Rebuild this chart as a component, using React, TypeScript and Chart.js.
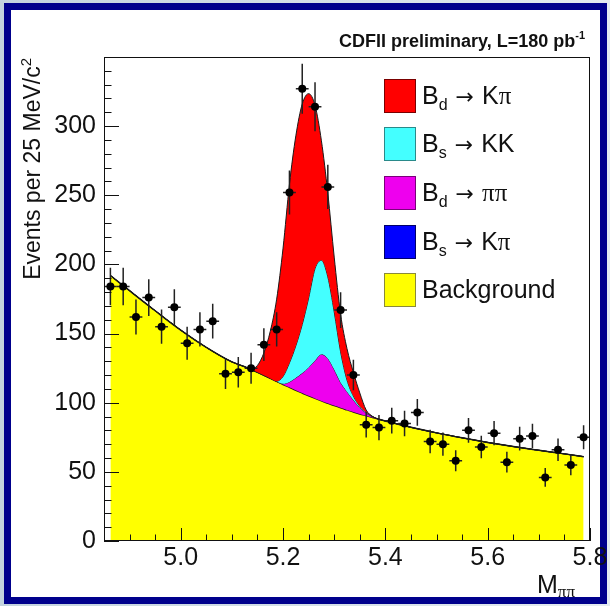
import React, { useEffect, useRef } from "react";
import { Chart, registerables } from "chart.js";

Chart.register(...registerables);

// ---- data points (bin centres, events per 25 MeV/c^2, errors) ----
const BIN_CENTERS = [
  4.8625, 4.8875, 4.9125, 4.9375, 4.9625, 4.9875, 5.0125, 5.0375, 5.0625, 5.0875,
  5.1125, 5.1375, 5.1625, 5.1875, 5.2125, 5.2375, 5.2625, 5.2875, 5.3125, 5.3375,
  5.3625, 5.3875, 5.4125, 5.4375, 5.4625, 5.4875, 5.5125, 5.5375, 5.5625, 5.5875,
  5.6125, 5.6375, 5.6625, 5.6875, 5.7125, 5.7375, 5.7625, 5.7875,
];
const EVENTS = [
  184, 184, 162, 176, 155, 169, 143, 153, 159, 121,
  122, 125, 142, 153, 252, 327, 314, 256, 167, 120,
  84, 82, 87, 85, 93, 72, 70, 58, 80, 68,
  78, 57, 74, 76, 46, 66, 55, 75,
];
const ERRORS = [
  13.6, 13.6, 12.7, 13.3, 12.4, 13.0, 12.0, 12.4, 12.6, 11.0,
  11.0, 11.2, 11.9, 12.4, 15.9, 18.1, 17.7, 16.0, 12.9, 11.0,
  9.2, 9.1, 9.3, 9.2, 9.6, 8.5, 8.4, 7.6, 8.9, 8.2,
  8.8, 7.5, 8.6, 8.7, 6.8, 8.1, 7.4, 8.7,
];
const BIN_HALF_WIDTH = 0.0125;

// ---- fit components ----
const CURVE_X = [
  4.8625, 4.9, 4.95, 5.0, 5.05, 5.1, 5.125, 5.1375, 5.15, 5.1625,
  5.175, 5.1875, 5.2, 5.2125, 5.225, 5.2375, 5.25, 5.2625, 5.275, 5.2875,
  5.3, 5.3125, 5.325, 5.3375, 5.35, 5.3625, 5.375, 5.3875, 5.4, 5.45,
  5.5, 5.55, 5.6, 5.65, 5.7, 5.75, 5.7875,
];
const BACKGROUND = [
  192, 181, 166.5, 152.5, 140, 129.5, 126, 124, 122, 119.8,
  117.6, 115.4, 113.2, 111.1, 109, 107, 105, 103.1, 101.3, 99.6,
  97.9, 96.3, 94.8, 93.3, 91.9, 90.6, 89.3, 88, 86.8, 82.2,
  78.2, 74.6, 71.3, 68.3, 65.6, 63, 61,
];
const BD_PIPI = [
  0, 0, 0, 0, 0, 0, 0, 0, 0, 0,
  0, 0, 0.5, 3.9, 9, 14.4, 20.5, 27.4, 33.7, 32.4,
  26.1, 18.3, 13.2, 8.6, 4.6, 1.9, 0.5, 0, 0, 0,
  0, 0, 0, 0, 0, 0, 0,
];
const BS_KK = [
  0, 0, 0, 0, 0, 0, 0, 0, 0, 0,
  0, 0.2, 5.3, 13.8, 23.2, 35.2, 50.2, 66.5, 68, 59,
  41.7, 22.2, 8.4, 2.9, 1.0, 0.7, 0.2, 0, 0, 0,
  0, 0, 0, 0, 0, 0, 0,
];
const BD_KPI = [
  0, 0, 0, 0, 0, 0, 0, 0.2, 5, 16.2,
  34, 59.3, 92.8, 129.2, 151.8, 159.4, 147.8, 118, 86.4, 60.6,
  39.6, 27.2, 22.7, 17.1, 9.6, 1.5, 0.1, 0, 0, 0,
  0, 0, 0, 0, 0, 0, 0,
];

const X_TICK_LABELS = [5.0, 5.2, 5.4, 5.6, 5.8];
const Y_TICK_LABELS = [0, 50, 100, 150, 200, 250, 300];
const X_RANGE = [4.85, 5.8];
const Y_RANGE = [0, 350];

const FONT = '"Liberation Sans", Arial, Helvetica, sans-serif';

const errorBars = {
  id: "errorBars",
  beforeDatasetDraw(chart: any, args: any) {
    if (args.index !== 0) return;
    const { ctx, scales } = chart;
    const x = scales.x;
    const y = scales.y;
    ctx.save();
    ctx.strokeStyle = "#222";
    ctx.lineWidth = 1.5;
    BIN_CENTERS.forEach((c, i) => {
      const px = x.getPixelForValue(c);
      const py = y.getPixelForValue(EVENTS[i]);
      ctx.beginPath();
      ctx.moveTo(px, y.getPixelForValue(EVENTS[i] - ERRORS[i]));
      ctx.lineTo(px, y.getPixelForValue(EVENTS[i] + ERRORS[i]));
      ctx.moveTo(x.getPixelForValue(c - BIN_HALF_WIDTH), py);
      ctx.lineTo(x.getPixelForValue(c + BIN_HALF_WIDTH), py);
      ctx.stroke();
    });
    ctx.restore();
  },
};

const rootFrame = {
  id: "rootFrame",
  afterDraw(chart: any) {
    const { ctx, chartArea: a, scales } = chart;
    const x = scales.x;
    const y = scales.y;
    ctx.save();
    ctx.strokeStyle = "#111";
    ctx.lineWidth = 1;
    ctx.strokeRect(Math.round(a.left) + 0.5, Math.round(a.top) + 0.5, Math.round(a.width) - 1, Math.round(a.height) - 1);
    ctx.beginPath();
    for (let v = Y_RANGE[0]; v <= Y_RANGE[1]; v += 10) {
      const py = Math.round(y.getPixelForValue(v)) + 0.5;
      const len = v % 50 === 0 ? 15 : 7.5;
      ctx.moveTo(a.left, py);
      ctx.lineTo(a.left + len, py);
    }
    for (let k = 0; k <= 19; k++) {
      const v = X_RANGE[0] + k * 0.05;
      const px = Math.round(x.getPixelForValue(v)) + 0.5;
      const major = Math.abs(v * 5 - Math.round(v * 5)) < 1e-6;
      const len = major ? 13 : 6.5;
      ctx.moveTo(px, a.bottom);
      ctx.lineTo(px, a.bottom - len);
    }
    ctx.stroke();
    ctx.restore();
  },
};

export default function App() {
  const ref = useRef<HTMLCanvasElement>(null);

  useEffect(() => {
    const canvas = ref.current;
    if (!canvas) return;
    const toPts = (ys: number[]) => CURVE_X.map((x, i) => ({ x, y: ys[i] }));
    const lvlBkg = BACKGROUND;
    const lvlPiPi = BACKGROUND.map((v, i) => v + BD_PIPI[i]);
    const lvlKK = lvlPiPi.map((v, i) => v + BS_KK[i]);
    const lvlKPi = lvlKK.map((v, i) => v + BD_KPI[i]);

    const curve = (label: string, ys: number[], color: string, fill: any, bw: number) => ({
      label,
      data: toPts(ys),
      borderColor: "#1a1a1a",
      borderWidth: bw,
      backgroundColor: color,
      fill,
      pointRadius: 0,
      pointHoverRadius: 0,
      cubicInterpolationMode: "monotone" as const,
    });

    const chart = new Chart(canvas, {
      type: "line",
      data: {
        datasets: [
          {
            label: "Data",
            data: BIN_CENTERS.map((x, i) => ({ x, y: EVENTS[i] })),
            showLine: false,
            pointRadius: 4,
            pointBackgroundColor: "#000",
            pointBorderColor: "#000",
            pointBorderWidth: 0,
            backgroundColor: "#000",
            borderColor: "#000",
          } as any,
          curve("Bd→Kπ", lvlKPi, "#ff0000", "+1", 1),
          curve("Bs→KK", lvlKK, "#44ffff", "+1", 1),
          curve("Bd→ππ", lvlPiPi, "#ee00ee", "+1", 1),
          curve("Background", lvlBkg, "#ffff00", "origin", 1.5),
        ],
      },
      options: {
        responsive: false,
        animation: false,
        events: [],
        layout: { padding: { left: 0, right: 20, top: 57, bottom: 0 } },
        plugins: { legend: { display: false }, tooltip: { enabled: false } },
        scales: {
          x: {
            type: "linear",
            min: X_RANGE[0],
            max: X_RANGE[1],
            afterFit: (s: any) => {
              s.height = 65;
            },
            afterBuildTicks: (s: any) => {
              s.ticks = X_TICK_LABELS.map((v) => ({ value: v }));
            },
            ticks: {
              autoSkip: false,
              maxRotation: 0,
              padding: 2,
              color: "#111",
              font: { family: FONT, size: 25 },
              callback: (v: any) => Number(v).toFixed(1),
            },
            grid: { display: false, drawTicks: false },
            border: { display: false },
          },
          y: {
            min: Y_RANGE[0],
            max: Y_RANGE[1],
            afterFit: (s: any) => {
              s.width = 104;
            },
            afterBuildTicks: (s: any) => {
              s.ticks = Y_TICK_LABELS.map((v) => ({ value: v }));
            },
            ticks: {
              autoSkip: false,
              padding: 8,
              color: "#111",
              font: { family: FONT, size: 25 },
              callback: (v: any) => String(v),
            },
            grid: { display: false, drawTicks: false },
            border: { display: false },
          },
        },
      },
      plugins: [errorBars, rootFrame],
    } as any);
    return () => chart.destroy();
  }, []);

  const legendRows = [
    { color: "#ff0000", border: "#7a0000", b: "d", decay: "Kπ" },
    { color: "#44ffff", border: "#2a8a8a", b: "s", decay: "KK" },
    { color: "#ee00ee", border: "#7a007a", b: "d", decay: "ππ" },
    { color: "#0000ff", border: "#00006a", b: "s", decay: "Kπ" },
    { color: "#ffff00", border: "#8a8a3a", b: "", decay: "" },
  ];
  const rowCenters = [95.5, 144, 193, 241.5, 290];

  return (
    <div
      style={{
        position: "absolute",
        left: 0,
        top: 0,
        width: 610,
        height: 606,
        overflow: "hidden",
        background: "linear-gradient(to right, #c3d3de, #e4ebf0)",
        fontFamily: FONT,
        color: "#111",
      }}
    >
      <div
        style={{
          position: "absolute",
          left: 4,
          top: 3,
          width: 603,
          height: 601,
          boxSizing: "border-box",
          border: "7px solid #00008c",
          background: "#ffffff",
        }}
      />
      <canvas
        ref={ref}
        width={610}
        height={606}
        style={{ position: "absolute", left: 0, top: 0, width: 610, height: 606 }}
      />
      {/* title */}
      <div
        style={{
          position: "absolute",
          right: 25,
          top: 30,
          fontSize: 18,
          fontWeight: "bold",
          lineHeight: "22px",
          whiteSpace: "nowrap",
        }}
      >
        CDFII preliminary, L=180 pb
        <span style={{ fontSize: 11, position: "relative", top: -8 }}>-1</span>
      </div>
      {/* y title */}
      <div
        style={{
          position: "absolute",
          left: 18,
          top: 318,
          width: 260,
          height: 28,
          lineHeight: "28px",
          fontSize: 23,
          textAlign: "right",
          whiteSpace: "nowrap",
          transform: "rotate(-90deg)",
          transformOrigin: "left top",
        }}
      >
        Events per 25 MeV/c
        <span style={{ fontSize: 15, position: "relative", top: -9 }}>2</span>
      </div>
      {/* x title */}
      <div
        style={{
          position: "absolute",
          left: 537,
          top: 569,
          fontSize: 25,
          lineHeight: "30px",
          whiteSpace: "nowrap",
        }}
      >
        M
        <span style={{ fontSize: 17, position: "relative", top: 4, fontFamily: '"Liberation Serif", "DejaVu Serif", serif' }}>
          ππ
        </span>
      </div>
      {/* legend */}
      {legendRows.map((r, i) => (
        <React.Fragment key={i}>
          <div
            style={{
              position: "absolute",
              left: 384,
              top: rowCenters[i] - 17,
              width: 32,
              height: 34,
              boxSizing: "border-box",
              background: r.color,
              border: `1.5px solid ${r.border}`,
            }}
          />
          <div
            style={{
              position: "absolute",
              left: 422,
              top: rowCenters[i] + 8 - 23.7,
              fontSize: 25,
              lineHeight: "30px",
              whiteSpace: "nowrap",
            }}
          >
            {r.b ? (
              <>
                B
                <span style={{ fontSize: 16, position: "relative", top: 6 }}>{r.b}</span>
                <span style={{ fontFamily: '"DejaVu Sans", sans-serif', fontSize: 22, margin: "0 8px 0 8px" }}>→</span>
                {r.decay.split("").map((ch, j) =>
                  ch === "π" ? (
                    <span key={j} style={{ fontFamily: '"Liberation Serif", "DejaVu Serif", serif' }}>π</span>
                  ) : (
                    <span key={j}>{ch}</span>
                  )
                )}
              </>
            ) : (
              "Background"
            )}
          </div>
        </React.Fragment>
      ))}
    </div>
  );
}
